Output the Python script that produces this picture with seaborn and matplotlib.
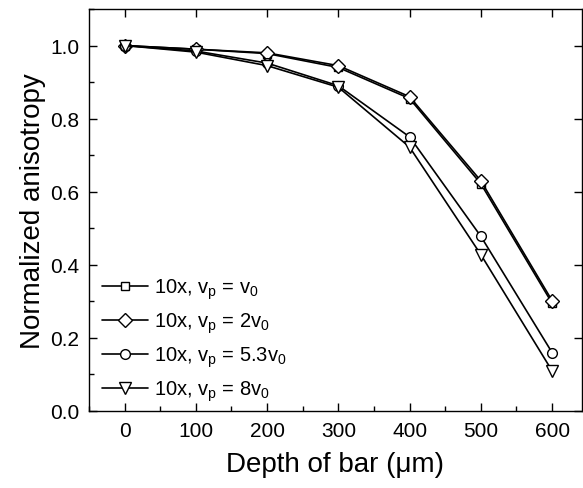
import matplotlib
matplotlib.use("Agg")
import matplotlib.pyplot as plt
import seaborn as sns
import pandas as pd
from matplotlib.lines import Line2D
from matplotlib.ticker import MultipleLocator

depth = [0, 100, 200, 300, 400, 500, 600]
v0 = [1.0, 0.99, 0.978, 0.94, 0.855, 0.622, 0.295]
v2 = [1.0, 0.99, 0.98, 0.945, 0.86, 0.63, 0.302]
v53 = [1.0, 0.985, 0.952, 0.89, 0.75, 0.478, 0.16]
v8 = [1.0, 0.982, 0.945, 0.886, 0.722, 0.428, 0.11]
labels = [r"10x, v$_\mathregular{p}$ = v$_\mathregular{0}$",
          r"10x, v$_\mathregular{p}$ = 2v$_\mathregular{0}$",
          r"10x, v$_\mathregular{p}$ = 5.3v$_\mathregular{0}$",
          r"10x, v$_\mathregular{p}$ = 8v$_\mathregular{0}$"]

sns.set_style("ticks")
plt.rcParams['font.family'] = ['Liberation Sans', 'DejaVu Sans']
plt.rcParams['mathtext.fontset'] = 'custom'
plt.rcParams['mathtext.rm'] = 'Liberation Sans'
plt.rcParams['mathtext.it'] = 'Liberation Sans'
for k in ['text.color', 'axes.labelcolor', 'xtick.color', 'ytick.color',
          'xtick.labelcolor', 'ytick.labelcolor']:
    plt.rcParams[k] = 'black'

fig = plt.figure(figsize=(5.83, 4.89), dpi=100)
ax = fig.add_axes([89/583, 1-412/489, (582-89)/583, (412-10)/489])

series = [v0, v2, v53, v8]
markers = ['s', 'D', 'o', 'v']
msizes = [6, 7, 7, 8]
handles = []
for vals, m, ms, lab in zip(series, markers, msizes, labels):
    df = pd.DataFrame({"depth": depth, "val": vals})
    sns.lineplot(data=df, x="depth", y="val", ax=ax, color='black', lw=1.2,
                 marker=m, markersize=ms, markerfacecolor='white',
                 markeredgecolor='black', markeredgewidth=1.0)
    handles.append(Line2D([], [], color='black', lw=1.2, marker=m, markersize=ms,
                          markerfacecolor='white', markeredgecolor='black',
                          markeredgewidth=1.0, label=lab))

ax.set_xlim(-50, 642)
ax.set_ylim(0, 1.1)
ax.xaxis.set_major_locator(MultipleLocator(100))
ax.xaxis.set_minor_locator(MultipleLocator(50))
ax.yaxis.set_major_locator(MultipleLocator(0.2))
ax.yaxis.set_minor_locator(MultipleLocator(0.1))
ax.yaxis.set_major_formatter(matplotlib.ticker.FormatStrFormatter('%.1f'))
ax.tick_params(axis='both', which='major', direction='in', length=6, width=1.0,
               labelsize=15, top=True, right=True, color='black', pad=7)
ax.tick_params(axis='both', which='minor', direction='in', length=3.5, width=1.0,
               top=False, right=False)
for s in ax.spines.values():
    s.set_linewidth(1.0)
    s.set_color('black')

ax.set_xlabel("Depth of bar (μm)", fontsize=20, labelpad=8)
ax.set_ylabel("Normalized anisotropy", fontsize=20, labelpad=3)

leg = ax.legend(handles=handles, loc='lower left', fontsize=14.5, frameon=False,
                handlelength=2.3, numpoints=1, labelspacing=0.47,
                handletextpad=0.3, borderaxespad=0.0, bbox_to_anchor=(0.01, 0.0))

fig.savefig("out.png", dpi=100)
